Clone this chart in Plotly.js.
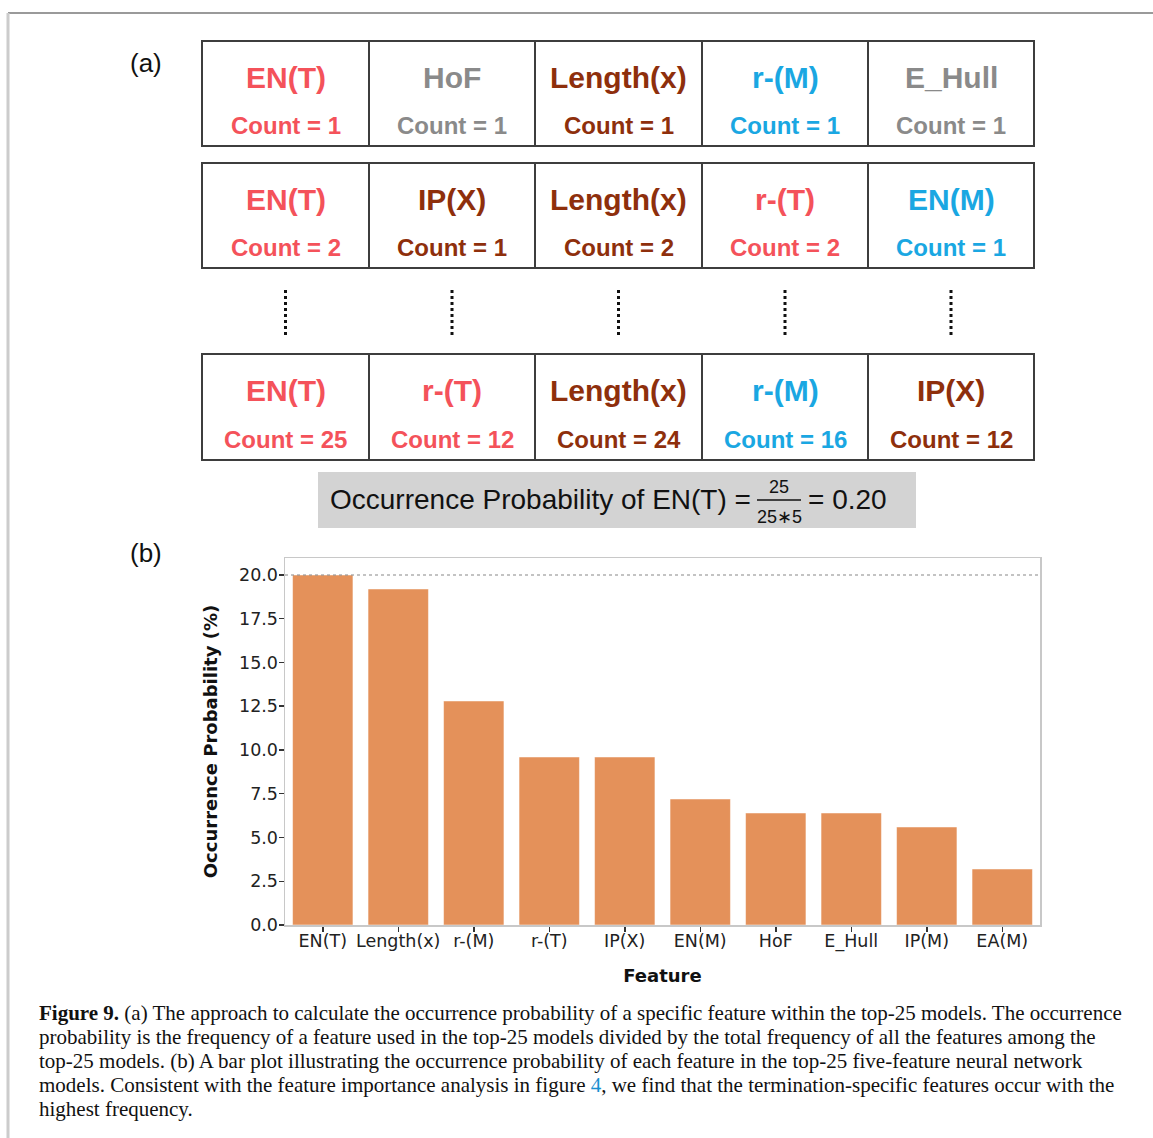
<!DOCTYPE html>
<html>
<head>
<meta charset="utf-8">
<script src="https://cdn.plot.ly/plotly-3.0.1.min.js"></script>
<style>html,body{margin:0;padding:0;background:#fff;}#chart{width:1153px;height:1138px;}</style>
</head>
<body>
<div id="chart"></div>
<script>
// ---- Data: panel (b) bar chart ----
const features = ['EN(T)', 'Length(x)', 'r-(M)', 'r-(T)', 'IP(X)', 'EN(M)', 'HoF', 'E_Hull', 'IP(M)', 'EA(M)'];
const probability = [20.0, 19.2, 12.8, 9.6, 9.6, 7.2, 6.4, 6.4, 5.6, 3.2];
const yTickVals = [0, 2.5, 5, 7.5, 10, 12.5, 15, 17.5, 20];

// ---- Data: panel (a) tables ----
const row1Names = ['EN(T)', 'HoF', 'Length(x)', 'r-(M)', 'E_Hull'];
const row1Counts = [1, 1, 1, 1, 1];
const row2Names = ['EN(T)', 'IP(X)', 'Length(x)', 'r-(T)', 'EN(M)'];
const row2Counts = [2, 1, 2, 2, 1];
const row3Names = ['EN(T)', 'r-(T)', 'Length(x)', 'r-(M)', 'IP(X)'];
const row3Counts = [25, 12, 24, 16, 12];
const featureColors = {
  'EN(T)': '#f4525a', 'r-(T)': '#f4525a',
  'Length(x)': '#8e2f0c', 'IP(X)': '#8e2f0c',
  'r-(M)': '#1aa7e2', 'EN(M)': '#1aa7e2',
  'HoF': '#8a8a8a', 'E_Hull': '#8a8a8a'
};

const captionLines = [
  '<b>Figure 9.</b> (a) The approach to calculate the occurrence probability of a specific feature within the top-25 models. The occurrence',
  'probability is the frequency of a feature used in the top-25 models divided by the total frequency of all the features among the',
  'top-25 models. (b) A bar plot illustrating the occurrence probability of each feature in the top-25 five-feature neural network',
  'models. Consistent with the feature importance analysis in figure <span style="color:#1a8fd0">4</span>, we find that the termination-specific features occur with the',
  'highest frequency.'
];

// ---- Layout helpers (pixel -> paper) ----
const W = 1153, H = 1138;
const px = x => x / W;
const py = y => 1 - y / H;

const shapes = [];
const annotations = [];

// outer frame
shapes.push({type:'line', xref:'paper', yref:'paper', x0:px(8), x1:px(1153), y0:py(13), y1:py(13), line:{color:'#9a9a9a', width:2}});
shapes.push({type:'line', xref:'paper', yref:'paper', x0:px(8), x1:px(8), y0:py(13), y1:py(1138), line:{color:'#cccccc', width:3}});

// table grid
const colEdges = [202, 369, 535, 702, 868, 1034];
const rows = [
  {names: row1Names, counts: row1Counts, top: 41, bottom: 146},
  {names: row2Names, counts: row2Counts, top: 163, bottom: 268},
  {names: row3Names, counts: row3Counts, top: 354, bottom: 460}
];
rows.forEach(r => {
  shapes.push({type:'rect', xref:'paper', yref:'paper', x0:px(colEdges[0]), x1:px(colEdges[5]), y0:py(r.bottom), y1:py(r.top), line:{color:'#3d3d3d', width:2}});
  for (let i = 1; i < 5; i++) {
    shapes.push({type:'line', xref:'paper', yref:'paper', x0:px(colEdges[i]), x1:px(colEdges[i]), y0:py(r.bottom), y1:py(r.top), line:{color:'#3d3d3d', width:2}});
  }
  r.names.forEach((n, i) => {
    const cx = (colEdges[i] + colEdges[i+1]) / 2;
    const col = featureColors[n];
    annotations.push({xref:'paper', yref:'paper', x:px(cx), y:py(r.top + 36), text:'<b>' + n + '</b>', showarrow:false, xanchor:'center', yanchor:'middle', font:{family:'Liberation Sans, Arial', size:30, color:col}});
    annotations.push({xref:'paper', yref:'paper', x:px(cx), y:py(r.top + 85), text:'<b>Count = ' + r.counts[i] + '</b>', showarrow:false, xanchor:'center', yanchor:'middle', font:{family:'Liberation Sans, Arial', size:24, color:col}});
  });
});
// vertical dotted ellipsis between rows 2 and 3
for (let i = 0; i < 5; i++) {
  const cx = (colEdges[i] + colEdges[i+1]) / 2;
  shapes.push({type:'line', xref:'paper', yref:'paper', x0:px(cx), x1:px(cx), y0:py(335), y1:py(287), line:{color:'#111', width:3, dash:'dot'}});
}

// formula box
shapes.push({type:'rect', xref:'paper', yref:'paper', x0:px(318), x1:px(916), y0:py(528), y1:py(472), fillcolor:'#d3d3d3', line:{width:0}, layer:'below'});
annotations.push({xref:'paper', yref:'paper', x:px(328), y:py(500), text:'Occurrence Probability of EN(T) =', showarrow:false, xanchor:'left', yanchor:'middle', font:{family:'Liberation Sans, Arial', size:28, color:'#111'}});
annotations.push({xref:'paper', yref:'paper', x:px(779), y:py(487), text:'25', showarrow:false, xanchor:'center', yanchor:'middle', font:{family:'Liberation Sans, Arial', size:18, color:'#111'}});
annotations.push({xref:'paper', yref:'paper', x:px(779), y:py(517), text:'25∗5', showarrow:false, xanchor:'center', yanchor:'middle', font:{family:'Liberation Sans, Arial', size:18, color:'#111'}});
shapes.push({type:'line', xref:'paper', yref:'paper', x0:px(757), x1:px(801), y0:py(500), y1:py(500), line:{color:'#111', width:1.5}});
annotations.push({xref:'paper', yref:'paper', x:px(806), y:py(500), text:'= 0.20', showarrow:false, xanchor:'left', yanchor:'middle', font:{family:'Liberation Sans, Arial', size:28, color:'#111'}});

// panel labels
annotations.push({xref:'paper', yref:'paper', x:px(146), y:py(63), text:'(a)', showarrow:false, xanchor:'center', yanchor:'middle', font:{family:'Liberation Sans, Arial', size:26, color:'#111'}});
annotations.push({xref:'paper', yref:'paper', x:px(146), y:py(553), text:'(b)', showarrow:false, xanchor:'center', yanchor:'middle', font:{family:'Liberation Sans, Arial', size:26, color:'#111'}});

// dotted reference line at 20
shapes.push({type:'line', xref:'paper', yref:'y', x0:px(285), x1:px(1040), y0:20, y1:20, line:{color:'#888', width:1.2, dash:'dot'}});

// caption
captionLines.forEach((t, i) => {
  annotations.push({xref:'paper', yref:'paper', x:px(37), y:py(1013 + i * 24), text:t, showarrow:false, xanchor:'left', yanchor:'middle', font:{family:'Liberation Serif, Times New Roman, serif', size:21, color:'#111'}});
});

const trace = {
  type: 'bar',
  x: features,
  y: probability,
  width: 0.8,
  marker: {color: '#e4915a', line: {color: '#ffffff', width: 0.5}},
  hoverinfo: 'x+y'
};

const layout = {
  width: W, height: H,
  margin: {l: 0, r: 0, t: 0, b: 0},
  paper_bgcolor: '#ffffff',
  plot_bgcolor: '#ffffff',
  showlegend: false,
  bargap: 0.2,
  font: {family: 'DejaVu Sans', color: '#222'},
  xaxis: {
    domain: [px(285), px(1040)],
    range: [-0.5, 9.5],
    showline: true, mirror: true, linecolor: '#c8c8c8', linewidth: 1.5,
    ticks: 'outside', ticklen: 5, tickwidth: 1.5, tickcolor: '#333',
    ticklabelstandoff: -6,
    tickfont: {family: 'DejaVu Sans', size: 17.5, color: '#222'},
    showgrid: false, zeroline: false,
    automargin: false,
    title: {text: '<b>Feature</b>', font: {family: 'DejaVu Sans', size: 18, color: '#111'}, standoff: 19}
  },
  yaxis: {
    domain: [py(925), py(558)],
    range: [0, 20.97],
    tickvals: yTickVals,
    tickformat: '.1f',
    showline: true, mirror: true, linecolor: '#c8c8c8', linewidth: 1.5,
    ticks: 'outside', ticklen: 5, tickwidth: 1.5, tickcolor: '#333',
    ticklabelstandoff: -3,
    tickfont: {family: 'DejaVu Sans', size: 17.5, color: '#222'},
    showgrid: false, zeroline: false,
    automargin: false,
    title: {text: '<b>Occurrence Probability (%)</b>', font: {family: 'DejaVu Sans', size: 18, color: '#111'}, standoff: 16}
  },
  shapes: shapes,
  annotations: annotations
};

Plotly.newPlot('chart', [trace], layout, {displayModeBar: false, staticPlot: true});
</script>
</body>
</html>
